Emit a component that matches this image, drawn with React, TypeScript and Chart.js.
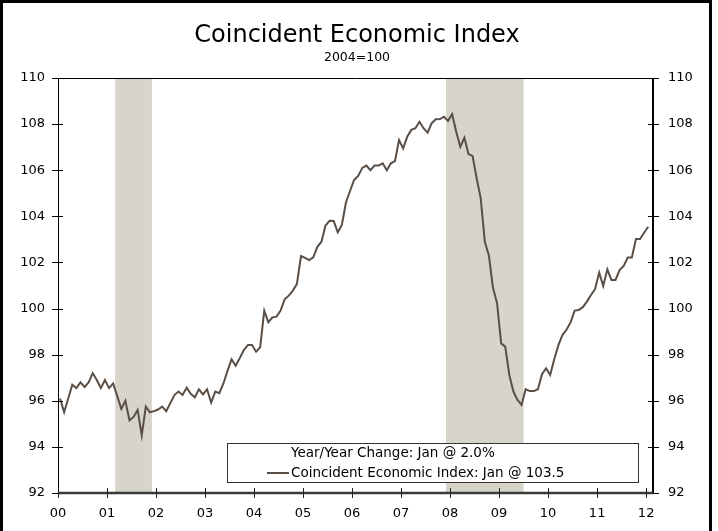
import React, { useEffect, useRef } from "react";
import { Chart, registerables } from "chart.js";

Chart.register(...registerables);

// ---- data ----
const yearLabels = ["00", "01", "02", "03", "04", "05", "06", "07", "08", "09", "10", "11", "12"];
const yTickValues = [92, 94, 96, 98, 100, 102, 104, 106, 108, 110];
// Coincident Economic Index, monthly Jan 2000 .. Jan 2012 (2004 = 100)
const indexValues = [
  96.1, 95.5, 96.1, 96.7, 96.55, 96.8, 96.6, 96.8, 97.2, 96.9, 96.55, 96.9,
  96.55, 96.75, 96.2, 95.65, 96.0, 95.15, 95.3, 95.6, 94.5, 95.75, 95.5, 95.55,
  95.62, 95.75, 95.55, 95.9, 96.25, 96.4, 96.25, 96.57, 96.3, 96.15, 96.5, 96.28,
  96.5, 95.92, 96.4, 96.33, 96.75, 97.3, 97.8, 97.52, 97.85, 98.2, 98.42, 98.42,
  98.13, 98.32, 99.91, 99.41, 99.62, 99.65, 99.91, 100.4, 100.56, 100.78, 101.07, 102.28,
  102.2, 102.1, 102.22, 102.68, 102.9, 103.6, 103.81, 103.8, 103.31, 103.63, 104.6, 105.1,
  105.58, 105.75, 106.1, 106.2, 106.0, 106.2, 106.2, 106.3, 106.0, 106.3, 106.4, 107.31,
  106.95, 107.45, 107.75, 107.82, 108.1, 107.82, 107.63, 108.04, 108.21, 108.22, 108.32, 108.14,
  108.43, 107.67, 107.02, 107.41, 106.7, 106.62, 105.65, 104.78, 102.9, 102.3, 100.9, 100.23,
  98.49, 98.35, 97.12, 96.4, 96.04, 95.82, 96.5, 96.42, 96.42, 96.5, 97.15, 97.41,
  97.12, 97.8, 98.4, 98.85, 99.08, 99.4, 99.91, 99.94, 100.06, 100.3, 100.59, 100.84,
  101.56, 100.98, 101.7, 101.24, 101.24, 101.67, 101.85, 102.21, 102.21, 103.02, 103.02, 103.29,
  103.55,
];
// recession periods in years since Jan 2000
const recessionStarts = [1 + 2 / 12, 7 + 11 / 12];
const recessionEnds = [1 + 11 / 12, 9 + 6 / 12];
const titleText = "Coincident Economic Index";
const subtitleText = "2004=100";
const legendLines = ["Year/Year Change: Jan @ 2.0%", "Coincident Economic Index: Jan @ 103.5"];

// ---- styles ----
const LINE_COLOR = "#5a4f46";
const SHADE_COLOR = "#d7d4c9";
const FONT = "'DejaVu Sans', Verdana, sans-serif";
const W = 718;
const H = 531;

const decorPlugin = {
  id: "decor",
  beforeDatasetsDraw(chart: any) {
    const { ctx, chartArea, scales } = chart;
    const x = scales.x;
    ctx.save();
    ctx.fillStyle = SHADE_COLOR;
    recessionStarts.forEach((s, i) => {
      const x0 = x.getPixelForValue(s);
      const x1 = x.getPixelForValue(recessionEnds[i]);
      ctx.fillRect(x0, chartArea.top, x1 - x0, chartArea.bottom - chartArea.top);
    });
    ctx.restore();
  },
  afterDraw(chart: any) {
    const { ctx, chartArea, scales } = chart;
    const { left, right, top, bottom } = chartArea;
    const x = scales.x;
    const y = scales.y;
    ctx.save();

    // axis lines
    ctx.strokeStyle = "#000";
    ctx.lineWidth = 1;
    ctx.beginPath();
    ctx.moveTo(left + 0.5, top);
    ctx.lineTo(left + 0.5, bottom);
    ctx.moveTo(left, top + 0.5);
    ctx.lineTo(right, top + 0.5);
    ctx.stroke();
    ctx.lineWidth = 2;
    ctx.beginPath();
    ctx.moveTo(right, top);
    ctx.lineTo(right, bottom);
    ctx.stroke();

    // y tick marks (crossing)
    ctx.lineWidth = 1;
    ctx.beginPath();
    yTickValues.forEach((v) => {
      const py = Math.round(y.getPixelForValue(v)) + 0.5;
      ctx.moveTo(left - 6, py);
      ctx.lineTo(left + 5, py);
      ctx.moveTo(right - 5, py);
      ctx.lineTo(right + 6, py);
    });
    ctx.stroke();

    // x axis line
    ctx.strokeStyle = "#3a3a3a";
    ctx.lineWidth = 2.5;
    ctx.beginPath();
    ctx.moveTo(left, bottom);
    ctx.lineTo(right, bottom);
    ctx.stroke();
    ctx.lineWidth = 1;
    ctx.strokeStyle = "#222";
    ctx.beginPath();
    yearLabels.forEach((_, i) => {
      const px = Math.round(x.getPixelForValue(i)) + 0.5;
      ctx.moveTo(px, bottom - 5);
      ctx.lineTo(px, bottom + 5);
    });
    ctx.stroke();

    // legend box
    const bx = 227, by = 443, bw = 411, bh = 39;
    ctx.fillStyle = "#fff";
    ctx.fillRect(bx, by, bw, bh);
    ctx.strokeStyle = "#333";
    ctx.lineWidth = 1;
    ctx.strokeRect(bx + 0.5, by + 0.5, bw, bh);
    ctx.fillStyle = "#000";
    ctx.font = `13.5px ${FONT}`;
    ctx.textBaseline = "middle";
    ctx.textAlign = "left";
    ctx.fillText(legendLines[0], 291, 453);
    ctx.fillText(legendLines[1], 291, 473);
    ctx.strokeStyle = LINE_COLOR;
    ctx.lineWidth = 2;
    ctx.beginPath();
    ctx.moveTo(267, 473);
    ctx.lineTo(289, 473);
    ctx.stroke();

    // title
    ctx.fillStyle = "#000";
    ctx.textAlign = "center";
    ctx.font = `24px ${FONT}`;
    ctx.fillText(titleText, 357, 36);
    ctx.font = `12.5px ${FONT}`;
    ctx.fillText(subtitleText, 357, 58);

    // frame
    ctx.fillStyle = "#000";
    ctx.fillRect(0, 0, 3, H);
    ctx.fillRect(0, 0, 712, 3);
    ctx.fillRect(709, 0, 3, H);

    ctx.restore();
  },
};

export default function App() {
  const canvasRef = useRef<HTMLCanvasElement | null>(null);

  useEffect(() => {
    const canvas = canvasRef.current;
    if (!canvas) return;
    const points = indexValues.map((v, i) => ({ x: (i + 0.5) / 12, y: v }));
    const tickFont = { family: FONT, size: 13 };
    const chart = new Chart(canvas, {
      type: "line",
      data: {
        datasets: [
          {
            label: legendLines[1],
            data: points,
            borderColor: LINE_COLOR,
            borderWidth: 2,
            pointRadius: 0,
            tension: 0,
            fill: false,
            yAxisID: "y",
          },
        ],
      },
      options: {
        animation: false,
        responsive: false,
        devicePixelRatio: 1,
        layout: { padding: { top: 78, left: 0, right: 0, bottom: 0 } },
        plugins: { legend: { display: false }, tooltip: { enabled: false }, title: { display: false } },
        scales: {
          x: {
            type: "linear",
            min: 0,
            max: 12.14,
            afterBuildTicks: (scale: any) => {
              scale.ticks = yearLabels.map((_, i) => ({ value: i }));
            },
            afterFit: (scale: any) => {
              scale.height = H - 493;
            },
            grid: { display: false, drawTicks: false },
            border: { display: false },
            ticks: {
              autoSkip: false,
              maxRotation: 0,
              padding: 13,
              color: "#000",
              font: tickFont,
              callback: (v: any) => yearLabels[Math.round(v)] ?? "",
            },
          },
          y: {
            position: "left",
            min: 92,
            max: 110,
            afterFit: (scale: any) => {
              scale.width = 58;
            },
            grid: { display: false, drawTicks: false },
            border: { display: false },
            ticks: { stepSize: 2, padding: 13, color: "#000", font: tickFont },
          },
          y2: {
            position: "right",
            min: 92,
            max: 110,
            afterFit: (scale: any) => {
              scale.width = W - 653;
            },
            grid: { display: false, drawTicks: false },
            border: { display: false },
            ticks: { stepSize: 2, padding: 15, color: "#000", font: tickFont },
          },
        },
      },
      plugins: [decorPlugin],
    });
    return () => chart.destroy();
  }, []);

  return (
    <div style={{ position: "absolute", left: 0, top: 0, width: W, height: H, background: "#fff" }}>
      <canvas ref={canvasRef} width={W} height={H} style={{ display: "block" }} />
    </div>
  );
}
